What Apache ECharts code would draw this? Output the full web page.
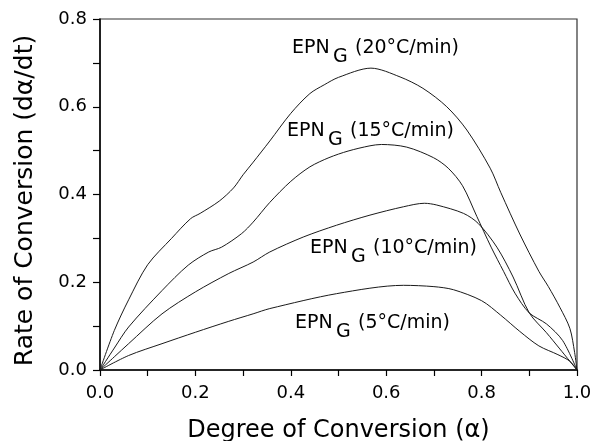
<!DOCTYPE html>
<html>
<head>
<meta charset="utf-8">
<script src="https://cdn.jsdelivr.net/npm/echarts@6/dist/echarts.min.js"></script>
<style>
html, body { margin: 0; padding: 0; background: #fff; }
#chartContainer { width: 593px; height: 441px; }
</style>
</head>
<body>
<div id="chartContainer"></div>
<script>
// tick labels
var xTickLabels = ['0.0', '0.2', '0.4', '0.6', '0.8', '1.0'];
var yTickLabels = ['0.0', '0.2', '0.4', '0.6', '0.8'];

// 20 C/min
var alpha20 = [0, 0.03, 0.06, 0.10, 0.15, 0.19, 0.21, 0.25, 0.28, 0.30, 0.32, 0.356, 0.40, 0.44, 0.47, 0.50, 0.568, 0.629, 0.677, 0.727, 0.769, 0.818, 0.84, 0.88, 0.92, 0.94, 0.964, 0.985, 0.995, 1.0];
var rate20  = [0, 0.09, 0.16, 0.24, 0.30, 0.345, 0.357, 0.385, 0.415, 0.445, 0.472, 0.522, 0.585, 0.630, 0.650, 0.667, 0.688, 0.668, 0.642, 0.60, 0.547, 0.46, 0.405, 0.31, 0.225, 0.19, 0.143, 0.095, 0.04, 0];

// 15 C/min
var alpha15 = [0, 0.03, 0.06, 0.13, 0.185, 0.228, 0.255, 0.297, 0.321, 0.356, 0.40, 0.44, 0.48, 0.52, 0.566, 0.59, 0.643, 0.699, 0.73, 0.76, 0.79, 0.82, 0.846, 0.87, 0.90, 0.936, 0.97, 1.0];
var rate15  = [0, 0.05, 0.098, 0.181, 0.239, 0.269, 0.280, 0.311, 0.337, 0.382, 0.43, 0.463, 0.484, 0.499, 0.511, 0.514, 0.508, 0.484, 0.46, 0.42, 0.35, 0.28, 0.225, 0.175, 0.13, 0.105, 0.067, 0];

// 10 C/min
var alpha10 = [0, 0.03, 0.06, 0.13, 0.2, 0.27, 0.321, 0.356, 0.426, 0.496, 0.566, 0.636, 0.68, 0.706, 0.762, 0.793, 0.832, 0.866, 0.90, 0.936, 0.964, 1.0];
var rate10  = [0, 0.03, 0.06, 0.128, 0.178, 0.22, 0.246, 0.269, 0.303, 0.33, 0.353, 0.372, 0.38, 0.376, 0.357, 0.334, 0.28, 0.212, 0.13, 0.085, 0.048, 0];

// 5 C/min
var alpha5 = [0, 0.06, 0.13, 0.2, 0.27, 0.321, 0.356, 0.496, 0.636, 0.70, 0.741, 0.80, 0.84, 0.88, 0.92, 0.96, 0.985, 1.0];
var rate5  = [0, 0.033, 0.06, 0.086, 0.111, 0.128, 0.14, 0.174, 0.193, 0.19, 0.183, 0.158, 0.125, 0.088, 0.055, 0.035, 0.02, 0];

var FONT = 'DejaVu Sans';
var LINE_COLOR = '#1a1a1a';

function zip(xs, ys) {
	var out = [];
	for (var i = 0; i < xs.length; i++) {
		out.push([xs[i], ys[i]]);
	}
	return out;
}

function curve(name, xs, ys) {
	return {
		name: name,
		type: 'line',
		data: zip(xs, ys),
		showSymbol: false,
		smooth: 0.3,
		lineStyle: { color: LINE_COLOR, width: 1 },
		silent: true
	};
}

// curve label "EPN_G (xx°C/min)", x = left edge of "EPN", y = its middle
function curveLabel(x, y, rateText) {
	var st = { fontFamily: FONT, fontSize: 19, fill: '#000', verticalAlign: 'middle' };
	return {
		type: 'group',
		children: [
			{ type: 'text', x: x, y: y, style: Object.assign({ text: 'EPN' }, st) },
			{ type: 'text', x: x + 41, y: y + 9, style: Object.assign({ text: 'G' }, st) },
			{ type: 'text', x: x + 63, y: y, style: Object.assign({ text: rateText }, st) }
		]
	};
}

var myChart = echarts.init(document.getElementById('chartContainer'), null, { renderer: 'canvas' });
var option = {
	animation: false,
	backgroundColor: '#fff',
	grid: {
		left: 100, right: 16, top: 19, bottom: 71,
		outerBoundsMode: 'none',
		show: true, borderColor: '#333', borderWidth: 1.2
	},
	xAxis: {
		type: 'value', min: 0, max: 1, interval: 0.2,
		name: 'Degree of Conversion (\u03b1)',
		nameLocation: 'middle', nameGap: 49,
		nameTextStyle: { fontFamily: FONT, fontSize: 24, color: '#000' },
		axisLine: { lineStyle: { color: '#000', width: 1.5 } },
		axisTick: { show: true, length: 6, lineStyle: { color: '#000', width: 1.2 } },
		minorTick: { show: true, splitNumber: 2, length: 6, lineStyle: { color: '#000', width: 1.2 } },
		splitLine: { show: false },
		axisLabel: {
			fontFamily: FONT, fontSize: 18, color: '#000', margin: 14,
			formatter: function (v) { return xTickLabels[Math.round(v / 0.2)]; }
		}
	},
	yAxis: {
		type: 'value', min: 0, max: 0.8, interval: 0.2,
		name: 'Rate of Conversion (d\u03b1/dt)',
		nameLocation: 'middle', nameGap: 62,
		nameTextStyle: { fontFamily: FONT, fontSize: 25, color: '#000', padding: [0, 12, 0, 0] },
		axisLine: { show: true, lineStyle: { color: '#000', width: 1.5 } },
		axisTick: { show: true, length: 7, lineStyle: { color: '#000', width: 1.2 } },
		minorTick: { show: true, splitNumber: 2, length: 7, lineStyle: { color: '#000', width: 1.2 } },
		splitLine: { show: false },
		axisLabel: {
			fontFamily: FONT, fontSize: 18, color: '#000', margin: 13,
			formatter: function (v) { return yTickLabels[Math.round(v / 0.2)]; }
		}
	},
	series: [
		curve('20', alpha20, rate20),
		curve('15', alpha15, rate15),
		curve('10', alpha10, rate10),
		curve('5', alpha5, rate5)
	],
	graphic: [
		curveLabel(292, 48, '(20\u00b0C/min)'),
		curveLabel(287, 131, '(15\u00b0C/min)'),
		curveLabel(310, 248, '(10\u00b0C/min)'),
		curveLabel(295, 323, '(5\u00b0C/min)')
	]
};
myChart.setOption(option);
</script>
</body>
</html>
